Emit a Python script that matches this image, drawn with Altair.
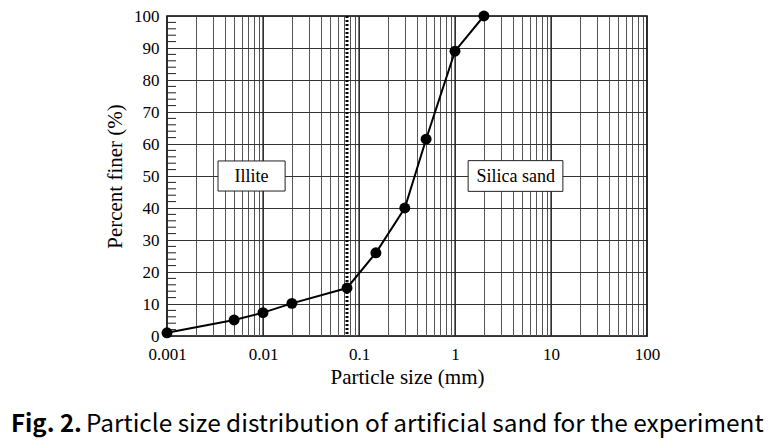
import altair as alt
import pandas as pd

# Measured data
size_mm = [0.001, 0.005, 0.01, 0.02, 0.075, 0.15, 0.3, 0.5, 1.0, 2.0]
finer_pct = [1, 5, 7.3, 10.2, 15, 26, 40, 61.5, 89, 100]

# Axis / grid positions
x_grid_vals = [0.001, 0.002, 0.003, 0.004, 0.005, 0.006, 0.007, 0.008, 0.009,
               0.01, 0.02, 0.03, 0.04, 0.05, 0.06, 0.07, 0.08, 0.09,
               0.1, 0.2, 0.3, 0.4, 0.5, 0.6, 0.7, 0.8, 0.9,
               1, 2, 3, 4, 5, 6, 7, 8, 9,
               10, 20, 30, 40, 50, 60, 70, 80, 90, 100]
x_decades = [0.001, 0.01, 0.1, 1, 10, 100]
y_major = [0, 10, 20, 30, 40, 50, 60, 70, 80, 90, 100]
y_minor = [2, 4, 6, 8, 12, 14, 16, 18, 22, 24, 26, 28, 32, 34, 36, 38,
           42, 44, 46, 48, 52, 54, 56, 58, 62, 64, 66, 68, 72, 74, 76, 78,
           82, 84, 86, 88, 92, 94, 96, 98]

# Annotations
boundary_mm = [0.075]
box_labels = ["Illite", "Silica sand"]
box_x_center = [0.0076, 4.3]
box_x_left = [0.0034, 1.37]
box_x_right = [0.0170, 13.3]
box_y_center = [50, 50]
box_y_low = [45.3, 45.2]
box_y_high = [54.7, 54.8]

SERIF = "Liberation Serif"

df = pd.DataFrame({"size": size_mm, "finer": finer_pct})
dec_df = pd.DataFrame({"size": x_decades})
minor_df = pd.DataFrame({"finer": y_minor})
bnd_df = pd.DataFrame({"size": boundary_mm})
box_df = pd.DataFrame({"label": box_labels, "size": box_x_center, "x1": box_x_left,
                       "x2": box_x_right, "finer": box_y_center, "y1": box_y_low,
                       "y2": box_y_high})

xscale = alt.Scale(type="log", domain=[0.001, 100], nice=False)
yscale = alt.Scale(domain=[0, 100], nice=False)

x_axis = alt.Axis(
    title="Particle size (mm)", values=x_grid_vals, grid=True, gridColor="#555555",
    gridWidth=1, gridOpacity=1, ticks=False, domain=False,
    labelExpr="indexof([0.001,0.01,0.1,1,10,100], datum.value) >= 0 ? format(datum.value, '~g') : ''",
    labelFont=SERIF, labelFontSize=17, labelColor="black", labelPadding=10,
    labelFlush=False, labelOverlap=False,
    titleFont=SERIF, titleFontSize=21, titleFontWeight="normal", titleColor="black",
    titlePadding=4,
)
y_axis = alt.Axis(
    title="Percent finer (%)", values=y_major, grid=True, gridColor="#333333",
    gridWidth=1, gridOpacity=1, ticks=False, domain=False,
    labelFont=SERIF, labelFontSize=17, labelColor="black", labelPadding=8,
    labelFlush=False, labelOverlap=False,
    titleFont=SERIF, titleFontSize=21, titleFontWeight="normal", titleColor="black",
    titlePadding=8,
)


def X(field):
    return alt.X(field, type="quantitative", scale=xscale, axis=x_axis)


def Y(field):
    return alt.Y(field, type="quantitative", scale=yscale, axis=y_axis)


decade_rules = alt.Chart(dec_df).mark_rule(color="#1a1a1a", strokeWidth=1.2).encode(
    x=X("size")
)

minor_ticks = alt.Chart(minor_df).mark_rule(color="#222222", strokeWidth=1).encode(
    y=Y("finer"), x=alt.value(0), x2=alt.value(9)
)

boxes = alt.Chart(box_df).mark_rect(fill="white", stroke="#222222", strokeWidth=1).encode(
    x=X("x1"), x2="x2:Q", y=Y("y1"), y2="y2:Q",
)
box_text = alt.Chart(box_df).mark_text(font=SERIF, fontSize=18, color="black",
                                       baseline="middle", dy=1).encode(
    x=X("size"), y=Y("finer"), text="label:N"
)

boundary = alt.Chart(bnd_df).mark_rule(color="black", strokeWidth=3,
                                       strokeDash=[2, 2]).encode(
    x=X("size")
)

line = alt.Chart(df).mark_line(color="black", strokeWidth=2).encode(
    x=X("size"), y=Y("finer")
)
points = alt.Chart(df).mark_point(filled=True, color="black", size=120, opacity=1).encode(
    x=X("size"), y=Y("finer")
)

cap_bold = alt.Chart(pd.DataFrame({"t": ["Fig. 2."]})).mark_text(
    font="Noto Sans CJK KR", fontSize=24, fontWeight=600, align="left",
    baseline="alphabetic", color="black"
).encode(x=alt.value(-156), y=alt.value(416), text="t:N")
cap_rest = alt.Chart(pd.DataFrame({"t": ["Particle size distribution of artificial sand for the experiment"]})).mark_text(
    font="Noto Sans CJK KR", fontSize=24.4, fontWeight="normal", align="left",
    baseline="alphabetic", color="black"
).encode(x=alt.value(-81), y=alt.value(416), text="t:N")

chart = alt.layer(
    decade_rules, minor_ticks, boxes, box_text, boundary, line, points,
    cap_bold, cap_rest
).properties(
    width=480, height=320,
    autosize=alt.AutoSizeParams(type="none"),
    padding={"left": 159, "top": 8, "right": 120, "bottom": 110},
    background="white",
).configure_view(stroke="black", strokeWidth=1.5)

chart.save("out.html", embed_options={"renderer": "svg", "actions": False})
